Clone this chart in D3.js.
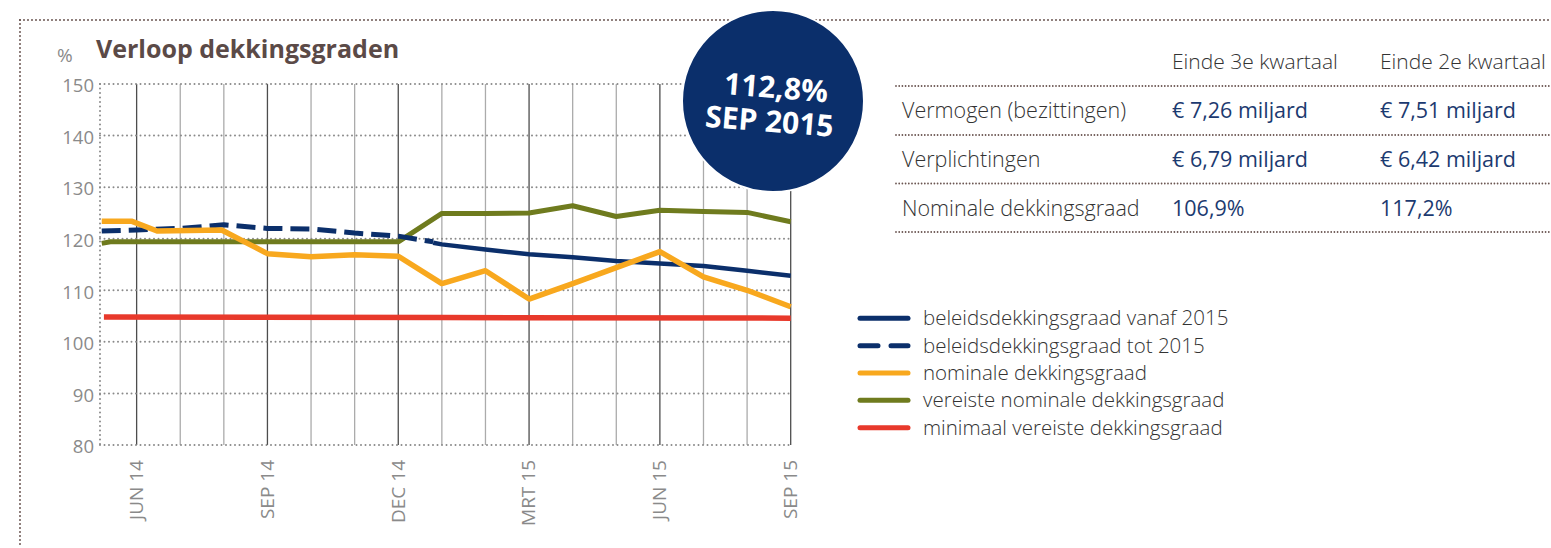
<!DOCTYPE html>
<html>
<head>
<meta charset="utf-8">
<script src="https://cdn.jsdelivr.net/npm/d3@7"></script>
<style>
	body {margin: 0; background: #fff;}
	text {font-family: "Open Sans", sans-serif;}
</style>
</head>
<body>
<div id="container"></div>
<script>

// values (month index: 0 = JUN 14 ... 15 = SEP 15)
var yTicks = [80, 90, 100, 110, 120, 130, 140, 150];
var monthIdx = [0, 1, 2, 3, 4, 5, 6, 7, 8, 9, 10, 11, 12, 13, 14, 15];
var quarterIdx = [0, 3, 6, 9, 12, 15];
var quarterLabels = ["JUN 14", "SEP 14", "DEC 14", "MRT 15", "JUN 15", "SEP 15"];

var totX = [-0.8, 0, 1, 2, 3, 4, 5, 6, 6.8];
var totY = [121.5, 121.7, 122.0, 122.7, 122.0, 121.9, 121.1, 120.5, 119.4];
var vanafX = [6.8, 7, 8, 9, 10, 11, 12, 13, 14, 15];
var vanafY = [119.2, 118.9, 117.9, 117.0, 116.4, 115.7, 115.2, 114.7, 113.8, 112.8];
var nominaalX = [-0.8, -0.12, 0.47, 1.95, 3, 4, 5, 6, 7, 8, 9, 10, 11, 12, 13, 14, 15];
var nominaalY = [123.4, 123.4, 121.5, 121.7, 117.1, 116.5, 116.9, 116.6, 111.3, 113.8, 108.3, 111.3, 114.4, 117.5, 112.6, 110.0, 106.8];
var vereistX = [-0.8, -0.6, 6, 7, 8, 9, 10, 11, 12, 13, 14, 15];
var vereistY = [119.1, 119.4, 119.4, 124.9, 124.9, 125.0, 126.4, 124.3, 125.5, 125.3, 125.1, 123.3];
var minimaalX = [-0.75, 7, 15];
var minimaalY = [104.8, 104.7, 104.6];

var legendLabels = ["beleidsdekkingsgraad vanaf 2015", "beleidsdekkingsgraad tot 2015", "nominale dekkingsgraad", "vereiste nominale dekkingsgraad", "minimaal vereiste dekkingsgraad"];
var legendColors = ["#0b2f6b", "#0b2f6b", "#f8a81e", "#6f7b1e", "#e8392b"];
var legendDashed = [false, true, false, false, false];

var tableHeaders = ["Einde 3e kwartaal", "Einde 2e kwartaal"];
var tableLabels = ["Vermogen (bezittingen)", "Verplichtingen", "Nominale dekkingsgraad"];
var kwartaal3 = ["€ 7,26 miljard", "€ 6,79 miljard", "106,9%"];
var kwartaal2 = ["€ 7,51 miljard", "€ 6,42 miljard", "117,2%"];

var badgeValue = "112,8%";
var badgeDate = "SEP 2015";

var width = 1551, height = 548;
var navy = "#0b2f6b";
var frameColor = "#6b5652";

var svg = d3.select("#container").append("svg")
	.attr("width", width)
	.attr("height", height);

// dotted frame
svg.append("line")
	.attr("x1", 20).attr("y1", 20).attr("x2", width).attr("y2", 20)
	.attr("stroke", frameColor).attr("stroke-width", 2)
	.attr("stroke-dasharray", "0,4").attr("stroke-linecap", "round");
svg.append("line")
	.attr("x1", 20).attr("y1", 20).attr("x2", 20).attr("y2", height)
	.attr("stroke", frameColor).attr("stroke-width", 2)
	.attr("stroke-dasharray", "0,4").attr("stroke-linecap", "round");

// scales
var x = d3.scaleLinear().domain([-0.84, 15]).range([100, 790.7]);
var y = d3.scaleLinear().domain([80, 150]).range([445, 84]);

// vertical month lines
svg.selectAll(".vgrid")
	.data(monthIdx).enter()
	.append("line")
		.attr("class", "vgrid")
		.attr("x1", function(d) { return x(d); })
		.attr("x2", function(d) { return x(d); })
		.attr("y1", y(150)).attr("y2", y(80))
		.attr("stroke", function(d) { return quarterIdx.includes(d) ? "#4d4d4d" : "#ababab"; })
		.attr("stroke-width", 1.3);

// dotted horizontal grid
svg.selectAll(".hgrid")
	.data(yTicks).enter()
	.append("line")
		.attr("class", "hgrid")
		.attr("x1", x(-0.84)).attr("x2", x(15))
		.attr("y1", function(d) { return y(d); })
		.attr("y2", function(d) { return y(d); })
		.attr("stroke", "#8a8a8a").attr("stroke-width", 2)
		.attr("stroke-dasharray", "0,4.5").attr("stroke-linecap", "round");

svg.append("line")
	.attr("x1", x(-0.84)).attr("x2", x(-0.84))
	.attr("y1", y(150)).attr("y2", y(80))
	.attr("stroke", "#8a8a8a").attr("stroke-width", 2)
	.attr("stroke-dasharray", "0,4.5").attr("stroke-linecap", "round");

// y axis labels
var yAxis = d3.axisLeft(y).tickValues(yTicks).tickSize(0).tickPadding(6);
var yg = svg.append("g")
	.attr("transform", "translate(" + x(-0.84) + ",0)")
	.call(yAxis);
yg.select(".domain").remove();
yg.selectAll("text")
	.attr("fill", "#8a8a8a")
	.style("font-size", "18.5px")
	.attr("dy", "0.42em");

// x axis labels (rotated)
var xAxis = d3.axisBottom(x).tickValues(quarterIdx)
	.tickFormat(function(d, i) { return quarterLabels[i]; })
	.tickSize(0);
var xg = svg.append("g")
	.attr("transform", "translate(0," + y(80) + ")")
	.call(xAxis);
xg.select(".domain").remove();
xg.selectAll("text")
	.attr("transform", "rotate(-90)")
	.attr("x", -15)
	.attr("y", -1)
	.attr("dy", "0.36em")
	.style("text-anchor", "end")
	.style("font-size", "19px")
	.attr("fill", "#8a8a8a");

// title
svg.append("text")
	.attr("x", 57).attr("y", 62)
	.attr("fill", "#8a8a8a")
	.style("font-size", "19px")
	.text("%");
svg.append("text")
	.attr("x", 96).attr("y", 58)
	.attr("fill", "#5b4a47")
	.style("font-size", "25px")
	.style("font-weight", "bold")
	.text("Verloop dekkingsgraden");

// lines
var line = d3.line()
	.x(function(d) { return x(d[0]); })
	.y(function(d) { return y(d[1]); });

function drawSeries(xs, ys, color, w, dash) {
	svg.append("path")
		.datum(d3.zip(xs, ys))
		.attr("d", line)
		.attr("fill", "none")
		.attr("stroke", color)
		.attr("stroke-width", w)
		.attr("stroke-linejoin", "round")
		.attr("stroke-dasharray", dash ? dash : null);
}

drawSeries(minimaalX, minimaalY, legendColors[4], 5.5);
drawSeries(vereistX, vereistY, legendColors[3], 5);
drawSeries(totX, totY, navy, 5, "19,8");
drawSeries(vanafX, vanafY, navy, 4.5);
drawSeries(nominaalX, nominaalY, legendColors[2], 5.5);

// badge
var badge = svg.append("g").attr("transform", "translate(773,101)");
badge.append("circle")
	.attr("r", 91)
	.attr("fill", navy)
	.attr("stroke", "#fff").attr("stroke-width", 2);
var bt = badge.append("g").attr("transform", "rotate(4.5)");
bt.append("text")
	.attr("x", 2).attr("y", -3)
	.attr("text-anchor", "middle")
	.attr("fill", "#fff")
	.style("font-size", "30px").style("font-weight", "bold")
	.text(badgeValue);
bt.append("text")
	.attr("x", -2).attr("y", 31)
	.attr("text-anchor", "middle")
	.attr("fill", "#fff")
	.style("font-size", "30px").style("font-weight", "bold")
	.text(badgeDate);

// table
var colX = [1172, 1380];
var rowY = [118, 167, 216];
var sepY = [86, 135, 183.5, 232];

svg.selectAll(".tsep")
	.data(sepY).enter()
	.append("line")
		.attr("class", "tsep")
		.attr("x1", 896).attr("x2", width)
		.attr("y1", function(d) { return d; })
		.attr("y2", function(d) { return d; })
		.attr("stroke", frameColor).attr("stroke-width", 1.8)
		.attr("stroke-dasharray", "0,3.2").attr("stroke-linecap", "round");

svg.selectAll(".thead")
	.data(tableHeaders).enter()
	.append("text")
		.attr("class", "thead")
		.attr("x", function(d, i) { return colX[i]; })
		.attr("y", 69)
		.attr("fill", "#333")
		.style("font-size", "21px").style("font-weight", 300)
		.text(function(d) { return d; });

svg.selectAll(".tlabel")
	.data(tableLabels).enter()
	.append("text")
		.attr("class", "tlabel")
		.attr("x", 902)
		.attr("y", function(d, i) { return rowY[i]; })
		.attr("fill", "#333")
		.style("font-size", "21.5px").style("font-weight", 300)
		.text(function(d) { return d; });

[kwartaal3, kwartaal2].forEach(function(col, c) {
	svg.selectAll(".tval" + c)
		.data(col).enter()
		.append("text")
			.attr("class", "tval" + c)
			.attr("x", colX[c])
			.attr("y", function(d, i) { return rowY[i]; })
			.attr("fill", "#1c3a70")
			.style("font-size", "21.5px")
			.text(function(d) { return d; });
});

// legend
var legend = svg.selectAll(".legend")
	.data(legendLabels).enter()
	.append("g")
		.attr("class", "legend")
		.attr("transform", function(d, i) { return "translate(858," + (318.3 + i * 27.35) + ")"; });

legend.append("line")
	.attr("x1", 2).attr("x2", 50)
	.attr("stroke", function(d, i) { return legendColors[i]; })
	.attr("stroke-width", 5)
	.attr("stroke-linecap", "round")
	.attr("stroke-dasharray", function(d, i) { return legendDashed[i] ? "18,13" : null; });

legend.append("text")
	.attr("x", 65)
	.attr("y", 7)
	.attr("fill", "#333")
	.style("font-size", "20.5px").style("font-weight", 300)
	.text(function(d) { return d; });

</script>
</body>
</html>
